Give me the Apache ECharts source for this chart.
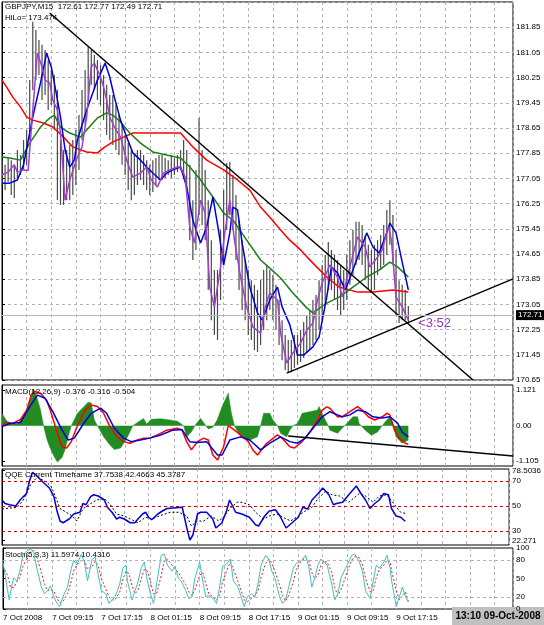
<!DOCTYPE html>
<html>
<head>
<meta charset="utf-8">
<script src="https://cdn.jsdelivr.net/npm/echarts@6/dist/echarts.min.js"></script>
<style>
  html, body { margin: 0; padding: 0; background: #fff; }
  #chart { width: 544px; height: 625px; }
</style>
</head>
<body>
<div id="chart"></div>
<script>
// x axis is the bar number (M15 bars) counted from the left edge
const dateLabels = ['7 Oct 2008', '7 Oct 09:15', '7 Oct 17:15', '8 Oct 01:15', '8 Oct 09:15',
  '8 Oct 17:15', '9 Oct 01:15', '9 Oct 09:15', '9 Oct 17:15']

// price bars, one every barStep bars
const barStep = 2
const barHigh = [177.63, 177.48, 177.70, 177.63, 177.48, 177.95, 177.79, 178.27, 178.59, 180.17,
  182.02, 181.76, 181.44, 181.29, 181.13, 180.81, 180.49, 180.33, 179.86, 178.27,
  177.95, 177.95, 178.11, 178.27, 178.59, 179.06, 179.86, 180.49, 181.22, 181.13,
  180.97, 180.81, 180.65, 180.33, 180.02, 179.70, 179.70, 179.38, 179.06, 178.75,
  178.43, 178.17, 177.95, 177.79, 177.95, 177.95, 177.79, 177.63, 177.48, 177.63,
  177.70, 177.79, 177.79, 177.70, 177.63, 177.79, 177.70, 177.79, 177.95, 178.27,
  177.95, 177.48, 176.36, 177.32, 178.97, 177.95, 177.32, 176.36, 175.09, 174.14,
  174.14, 175.41, 176.68, 177.54, 177.57, 177.16, 176.52, 175.73, 175.09, 174.46,
  174.14, 173.82, 173.67, 173.51, 173.82, 174.14, 174.30, 174.14, 173.98, 173.67,
  173.19, 172.55, 172.08, 171.92, 171.92, 172.08, 172.08, 172.24, 172.49, 172.71,
  172.87, 173.19, 173.35, 173.82, 174.30, 174.62, 175.03, 174.78, 174.62, 174.46,
  174.30, 174.14, 174.62, 175.09, 175.41, 175.67, 175.67, 175.57, 175.25, 174.94,
  174.78, 174.94, 175.09, 175.25, 175.57, 176.05, 176.36, 175.89, 174.78, 173.82,
  173.67, 173.51, 173.00]
const barLow = [176.84, 176.68, 176.94, 176.52, 176.43, 177.06, 177.16, 177.32, 177.48, 178.27,
  179.86, 180.17, 180.33, 179.54, 179.70, 179.22, 179.38, 178.59, 176.36, 176.21,
  176.21, 176.36, 176.36, 176.52, 176.84, 177.32, 178.27, 178.75, 179.54, 180.02,
  179.86, 179.54, 179.38, 178.90, 178.43, 178.27, 178.11, 177.95, 177.79, 177.48,
  177.16, 176.68, 176.36, 176.52, 176.84, 177.00, 176.84, 176.68, 176.52, 176.62,
  176.84, 177.00, 177.00, 177.06, 177.16, 177.06, 177.16, 177.25, 177.32, 177.16,
  176.68, 175.09, 174.46, 174.78, 175.89, 175.57, 175.09, 173.51, 172.55, 172.08,
  171.92, 173.19, 174.46, 175.41, 175.89, 175.41, 174.46, 173.51, 172.87, 172.55,
  172.08, 171.92, 171.60, 171.54, 171.76, 172.24, 172.55, 172.87, 172.55, 172.24,
  171.76, 171.28, 170.97, 170.90, 170.90, 171.03, 171.13, 171.22, 171.35, 171.54,
  171.60, 171.76, 171.92, 172.24, 172.55, 173.03, 173.51, 173.51, 173.19, 172.87,
  172.71, 172.87, 173.19, 173.67, 173.98, 174.30, 174.46, 174.30, 173.82, 173.51,
  173.41, 173.51, 173.98, 174.14, 174.30, 174.62, 174.94, 174.30, 172.71, 172.46,
  172.55, 172.55, 172.49]
const lastPrice = 172.71

// moving averages [bar, price]
const maRed = [[0, 180.17], [3, 179.95], [7, 179.63], [12, 179.32], [16, 179.0], [20, 178.9], [27, 178.81],
  [33, 178.68], [40, 178.36], [46, 178.05], [55, 177.89], [62, 177.86], [66, 178.02], [72, 178.21],
  [79, 178.36], [85, 178.49], [96, 178.49], [107, 178.49], [116, 178.49], [124, 178.05], [133, 177.63],
  [144, 177.32], [153, 177.0], [161, 176.68], [168, 176.14], [174, 175.82], [181, 175.41], [187, 175.09],
  [194, 174.78], [202, 174.36], [211, 173.92], [219, 173.6], [231, 173.44], [241, 173.44], [254, 173.51],
  [264, 173.44]]
const maGreen = [[0, 177.73], [5, 177.7], [12, 177.63], [18, 178.17], [25, 178.68], [31, 178.97], [34, 179.06],
  [38, 178.68], [44, 178.49], [51, 178.36], [55, 178.59], [62, 178.97], [68, 179.13], [72, 179.06],
  [77, 178.84], [83, 178.49], [90, 178.17], [98, 177.89], [107, 177.79], [116, 177.7], [122, 177.41],
  [129, 177.0], [137, 176.46], [144, 175.95], [150, 175.73], [159, 175.09], [168, 174.46], [174, 174.2],
  [181, 173.89], [189, 173.41], [198, 172.94], [202, 172.78], [211, 173.09], [219, 173.28], [228, 173.6],
  [237, 173.92], [245, 174.14], [252, 174.39], [257, 174.24], [264, 173.92]]
const maBlue = [[0, 176.9], [5, 176.9], [10, 177.0], [14, 177.48], [20, 179.0], [25, 180.08], [29, 181.03],
  [32, 180.59], [34, 180.08], [38, 179.0], [41, 177.95], [44, 177.41], [47, 177.63], [49, 178.27],
  [55, 179.22], [62, 180.17], [67, 180.71], [70, 180.27], [73, 179.63], [77, 178.9], [81, 178.36],
  [85, 177.86], [90, 177.63], [94, 177.41], [98, 177.22], [103, 177.0], [107, 177.22], [111, 177.32],
  [116, 177.41], [120, 176.78], [124, 175.73], [129, 175.0], [133, 175.51], [137, 176.46], [141, 175.3],
  [144, 174.3], [148, 175.32], [150, 176.14], [153, 176.05], [156, 175.0], [161, 173.6], [166, 172.78],
  [169, 172.55], [174, 173.19], [179, 173.6], [182, 172.97], [187, 172.4], [192, 171.44], [196, 171.44],
  [202, 171.7], [206, 172.02], [211, 173.28], [214, 174.24], [218, 174.05], [223, 173.51], [228, 174.14],
  [232, 174.68], [237, 175.32], [241, 174.87], [245, 174.68], [249, 175.19], [252, 175.63], [256, 175.32],
  [260, 174.39], [264, 173.51]]
const maPurple = [[0, 177.16], [4, 177.25], [8, 177.48], [10, 177.25], [14, 177.32], [17, 177.3], [20, 179.22],
  [23, 181.03], [26, 180.59], [28, 180.17], [31, 180.08], [33, 179.54], [36, 179.22], [38, 178.49],
  [41, 176.36], [44, 177.0], [49, 177.73], [52, 178.05], [55, 179.0], [58, 180.59], [60, 180.71],
  [64, 180.27], [66, 179.95], [68, 179.54], [70, 179.0], [73, 178.68], [77, 178.36], [81, 177.63],
  [85, 177.09], [90, 177.22], [94, 177.41], [97, 177.0], [101, 176.78], [105, 177.22], [109, 177.32],
  [114, 177.41], [116, 177.41], [119, 177.09], [122, 175.51], [125, 175.0], [129, 176.36], [132, 175.95],
  [135, 173.6], [138, 172.97], [142, 174.24], [145, 175.41], [148, 176.36], [151, 175.09], [155, 173.92],
  [159, 172.97], [163, 172.33], [168, 172.14], [171, 172.97], [174, 173.41], [179, 173.19], [181, 172.14],
  [185, 171.19], [189, 171.51], [194, 171.82], [198, 172.24], [202, 172.46], [205, 173.19], [208, 173.73],
  [213, 174.3], [218, 173.92], [221, 173.28], [226, 174.24], [231, 175.19], [236, 174.87], [239, 174.24],
  [244, 174.55], [247, 174.78], [251, 175.51], [253, 175.09], [256, 173.28], [260, 172.97], [264, 172.55]]
const trendDown = [[31, 182.30], [306, 170.65]]
const trendUp = [[185, 170.87], [332, 173.86]]

// MACD pane
const macdTicks = [1.121, 0, -1.105]
const macdHist = [[0, 0.39], [3, 0.15], [6, 0.08], [10, 0.05], [14, 0.3], [17, 0.6], [19, 0.9], [20, 1.15],
  [22, 1.0], [25, 0.5], [27, 0], [29, -0.4], [31, -0.67], [34, -0.98], [36, -1.14], [39, -1.0], [41, -0.75],
  [43, -0.35], [45, 0], [49, 0.39], [53, 0.59], [56, 0.74], [58, 0.71], [60, 0.18], [62, 0], [66, -0.35],
  [70, -0.6], [73, -0.75], [77, -0.7], [81, -0.4], [85, 0], [88, 0.1], [92, 0.23], [94, 0.05], [97, 0.2],
  [103, 0.22], [109, 0.18], [114, 0.14], [118, 0], [120, -0.35], [123, -0.2], [126, 0.05], [129, 0.23],
  [131, 0.1], [134, -0.1], [137, -0.05], [140, 0.2], [143, 0.6], [147, 1.02], [149, 0.4], [151, 0],
  [155, -0.35], [158, -0.4], [161, -0.45], [166, -0.35], [168, 0], [170, 0.39], [174, 0.39], [176, 0.18],
  [179, 0], [181, -0.24], [185, -0.35], [187, -0.14], [189, 0], [192, 0.07], [195, 0.39], [200, 0.44],
  [205, 0.49], [206, 0.6], [210, 0.18], [212, 0], [213, -0.14], [218, -0.24], [221, -0.08], [224, 0.07],
  [228, 0.28], [231, 0.28], [232, 0.07], [236, -0.14], [240, -0.3], [244, -0.2], [247, 0], [250, 0.18],
  [252, 0.28], [254, 0.07], [256, -0.35], [260, -0.55], [264, -0.45]]
const macdRed = [[0, 0], [3, 0.1], [7, 0.07], [12, 0.2], [16, 0.49], [19, 0.96], [21, 1.08], [25, 1.02],
  [29, 0.8], [32, 0.39], [36, -0.24], [39, -0.66], [42, -0.7], [45, -0.5], [49, 0], [54, 0.49], [58, 0.65],
  [62, 0.6], [66, 0.39], [70, -0.02], [75, -0.35], [79, -0.5], [83, -0.55], [88, -0.45], [92, -0.39],
  [96, -0.39], [101, -0.29], [107, -0.14], [114, -0.08], [117, -0.14], [120, -0.5], [123, -0.76],
  [127, -0.5], [131, -0.39], [134, -0.45], [137, -0.92], [140, -1.08], [144, -0.66], [147, 0], [150, -0.1],
  [155, -0.29], [160, -0.5], [163, -0.76], [166, -0.92], [172, -0.55], [179, -0.29], [182, -0.39],
  [187, -0.66], [190, -0.7], [195, -0.5], [200, -0.2], [205, 0.18], [208, 0.49], [211, 0.59], [213, 0.55],
  [218, 0.28], [221, 0.28], [226, 0.44], [231, 0.6], [234, 0.49], [238, 0.28], [242, 0.18], [247, 0.28],
  [250, 0.39], [252, 0.34], [255, -0.14], [258, -0.39], [262, -0.55], [264, -0.58]]
const macdBlue = [[0, -0.03], [5, 0.07], [12, 0.1], [18, 0.6], [23, 0.96], [28, 0.86], [33, 0.44], [39, -0.14],
  [43, -0.45], [47, -0.39], [53, 0.07], [58, 0.39], [64, 0.55], [68, 0.39], [73, -0.08], [79, -0.39],
  [84, -0.5], [90, -0.45], [96, -0.39], [103, -0.29], [111, -0.14], [117, -0.12], [122, -0.5], [127, -0.53],
  [133, -0.5], [140, -0.92], [143, -0.92], [148, -0.45], [155, -0.35], [161, -0.45], [168, -0.76],
  [174, -0.55], [181, -0.35], [187, -0.5], [192, -0.55], [197, -0.39], [202, -0.08], [208, 0.28],
  [213, 0.44], [218, 0.34], [221, 0.28], [226, 0.34], [231, 0.49], [236, 0.44], [241, 0.28], [247, 0.24],
  [252, 0.28], [257, 0.08], [260, -0.2], [264, -0.35]]
const macdTrend = [[186, -0.32], [332, -0.95]]

// QQE pane
const qqeTicks = [22.271, 30, 50, 70, 78.5036]
const qqeLevels = [70, 50, 30]
const qqeFast = [[0, 54.8], [2, 52], [5, 51], [6, 52], [9, 50], [12, 55], [16, 60], [18, 70], [20, 77], [23, 74],
  [26, 70], [31, 64.4], [34, 57.5], [36, 46], [38, 38], [40, 36.6], [44, 39.6], [47, 43.6], [51, 45], [53, 52],
  [55, 51], [58, 57.5], [60, 59], [63, 58], [67, 54.8], [69, 49], [72, 45], [75, 39.6], [77, 41], [80, 39.6],
  [84, 36.6], [87, 36.6], [89, 39.6], [92, 43.6], [94, 45], [96, 41], [98, 39], [102, 43.6], [105, 46],
  [108, 48], [112, 48.4], [118, 49], [119, 47.6], [121, 32.4], [123, 22.8], [125, 26.8], [128, 43.6],
  [130, 45], [134, 45], [138, 39.6], [140, 32.4], [144, 36.6], [147, 46], [149, 54.8], [153, 45],
  [157, 43.6], [162, 41], [166, 35], [168, 34], [172, 42], [175, 46], [179, 47], [182, 42], [186, 32.4],
  [190, 36.6], [194, 41], [197, 49], [200, 47.6], [203, 54.8], [207, 60], [210, 64.4], [214, 59], [217, 51],
  [219, 52], [223, 53], [227, 59], [232, 66], [235, 60], [238, 54.8], [241, 48], [244, 52], [247, 54.8],
  [250, 60], [253, 59], [255, 48], [258, 42], [261, 41], [264, 37.75]]
const qqeSlow = [[0, 47.6], [10, 49], [14, 54.8], [19, 67.6], [23, 73], [28, 70], [32, 66], [35, 57.5], [38, 48],
  [42, 45], [46, 42], [49, 38], [53, 47.6], [58, 52], [62, 54.8], [67, 56], [71, 51], [75, 43.6], [80, 42],
  [84, 39.6], [89, 36.6], [94, 41], [98, 39.6], [103, 42], [110, 45], [116, 45], [121, 42], [124, 34],
  [128, 38], [132, 38], [137, 42], [142, 38], [145, 41], [150, 49], [154, 53], [157, 53], [162, 51],
  [166, 45], [171, 39.6], [175, 42], [180, 43.6], [184, 41], [189, 38], [194, 42], [198, 45.6], [203, 49],
  [207, 56], [212, 62], [216, 59], [221, 58], [227, 53], [234, 60], [238, 58], [243, 53], [247, 58],
  [252, 59], [257, 51], [261, 45], [264, 44]]

// Stochastic pane
const stochTicks = [0, 20, 50, 80, 100]
const stochLevels = [20, 80]
const stochMain = [[0, 77], [2, 46], [4, 15], [6, 41], [7, 51], [9, 46], [11, 62], [13, 88], [16, 96], [18, 98],
  [20, 93], [22, 67], [25, 36], [27, 25], [29, 30], [31, 38], [33, 20], [35, 10], [37, 4], [39, 20], [42, 36],
  [44, 62], [46, 80], [48, 72], [51, 90], [53, 77], [55, 46], [58, 82], [60, 85], [62, 56], [64, 30], [67, 25],
  [69, 9], [71, 15], [73, 20], [76, 41], [78, 67], [80, 72], [81, 46], [84, 15], [86, 30], [88, 46], [90, 67],
  [92, 77], [94, 46], [96, 25], [98, 9], [100, 41], [103, 88], [105, 90], [107, 72], [110, 62], [112, 70],
  [114, 51], [116, 46], [119, 30], [121, 17], [123, 20], [125, 51], [128, 77], [130, 46], [132, 20], [134, 22],
  [137, 17], [139, 9], [141, 36], [143, 70], [146, 75], [148, 82], [150, 46], [153, 36], [155, 20], [157, 4],
  [159, 20], [162, 25], [164, 20], [166, 41], [168, 72], [171, 88], [173, 82], [175, 62], [177, 51], [180, 20],
  [182, 9], [184, 15], [186, 36], [189, 67], [191, 75], [193, 77], [195, 82], [197, 88], [199, 70], [201, 36],
  [203, 51], [205, 72], [207, 82], [209, 77], [211, 72], [214, 41], [216, 15], [218, 25], [220, 51], [223, 67],
  [225, 77], [227, 88], [229, 90], [232, 77], [234, 62], [236, 30], [239, 17], [241, 46], [243, 72], [245, 67],
  [248, 77], [250, 88], [252, 67], [253, 46], [256, 4], [258, 20], [260, 36], [262, 20], [264, 11.6]]
const stochSignal = [[0, 70], [3, 55], [5, 35], [7, 35], [9, 45], [11, 52], [13, 70], [16, 85], [18, 94],
  [20, 96], [22, 85], [25, 60], [27, 40], [29, 30], [31, 32], [33, 30], [35, 18], [37, 10], [39, 12], [42, 25],
  [44, 42], [46, 62], [48, 72], [51, 80], [53, 80], [55, 65], [58, 70], [60, 78], [62, 72], [64, 50], [67, 32],
  [69, 20], [71, 15], [73, 15], [76, 28], [78, 48], [80, 62], [82, 58], [84, 38], [86, 25], [88, 32], [90, 50],
  [92, 65], [94, 62], [96, 45], [98, 25], [100, 25], [103, 55], [105, 80], [107, 82], [110, 72], [112, 66],
  [114, 60], [116, 52], [119, 40], [121, 28], [123, 22], [125, 32], [128, 55], [130, 60], [132, 42], [134, 25],
  [137, 19], [139, 15], [141, 22], [143, 45], [146, 65], [148, 77], [150, 65], [153, 45], [155, 30], [157, 15],
  [159, 12], [162, 18], [164, 22], [166, 30], [168, 52], [171, 75], [173, 82], [175, 75], [177, 62], [180, 40],
  [182, 22], [184, 13], [186, 22], [189, 45], [191, 65], [193, 75], [195, 80], [197, 84], [199, 80], [201, 60],
  [203, 50], [205, 55], [207, 72], [209, 78], [211, 77], [214, 60], [216, 35], [218, 22], [220, 32], [223, 52],
  [225, 68], [227, 80], [229, 86], [232, 84], [234, 72], [236, 50], [239, 28], [241, 30], [243, 52], [245, 65],
  [248, 72], [250, 80], [252, 78], [253, 62], [256, 30], [258, 15], [260, 22], [262, 28], [264, 10.4]]

const font = '"Liberation Sans", Arial, sans-serif'
const gridLine = { color: '#b4b4b4', type: [3, 3], width: 1 }

function xAxisFor(i, labels) {
  return {
    type: 'value', gridIndex: i, min: 0, max: 332, interval: 16,
    axisLine: { show: false },
    axisTick: { show: false },
    axisLabel: {
      show: labels, align: 'left', fontSize: 8, color: '#000', fontFamily: font, margin: 5,
      showMaxLabel: false,
      formatter: (v) => (v % 32 === 0 && dateLabels[v / 32]) ? dateLabels[v / 32] : ''
    },
    splitLine: { show: true, lineStyle: gridLine }
  }
}

function yAxisFor(i, extra) {
  return Object.assign({
    type: 'value', gridIndex: i, position: 'right',
    axisLine: { show: true, lineStyle: { color: '#000' } },
    axisTick: { show: true, length: 3, lineStyle: { color: '#000' } },
    splitLine: { show: false }
  }, extra)
}

function line(name, data, xi, color, width, type) {
  return {
    name, type: 'line', data, xAxisIndex: xi, yAxisIndex: xi,
    symbol: 'none', silent: true, z: 3,
    lineStyle: { color, width, type: type || 'solid' }
  }
}

const chart = echarts.init(document.getElementById('chart'))

const labelStyle = { fontSize: 8, color: '#000', fontFamily: font, margin: 3 }

chart.setOption({
  animation: false,
  backgroundColor: '#fff',
  title: [
    { text: 'GBPJPY,M15  172.61 172.77 172.49 172.71', left: 5, top: 3 },
    { text: 'HiLo= 173.474', left: 5, top: 14 },
    { text: 'MACD(12,26,9) -0.376 -0.316 -0.504', left: 5, top: 388 },
    { text: 'QQE Current Timeframe 37.7538 42.4663 45.3787', left: 5, top: 471 },
    { text: 'Stoch(5,3,3) 11.5974 10.4316', left: 5, top: 551 }
  ].map(t => Object.assign({ padding: 0, textStyle: { fontSize: 8, fontWeight: 'normal', color: '#000', fontFamily: font } }, t)),
  grid: [
    { left: 2, right: 31, top: 2, height: 378 },
    { left: 2, right: 31, top: 385, height: 81 },
    { left: 2, right: 31, top: 469, height: 76 },
    { left: 2, right: 31, top: 548, height: 61 }
  ].map(g => Object.assign({ show: true, borderColor: '#000', borderWidth: 1 }, g)),
  xAxis: [xAxisFor(0, false), xAxisFor(1, false), xAxisFor(2, false), xAxisFor(3, true)],
  yAxis: [
    yAxisFor(0, {
      min: 170.65, max: 182.65, interval: 0.8,
      axisLabel: Object.assign({ showMaxLabel: false, formatter: (v) => v.toFixed(2) }, labelStyle),
      splitLine: { show: true, lineStyle: gridLine }
    }),
    yAxisFor(1, {
      min: -1.265, max: 1.278,
      axisTick: { show: true, length: 3, customValues: macdTicks, lineStyle: { color: '#000' } },
      axisLabel: Object.assign({ customValues: macdTicks, formatter: (v) => v === 0 ? '0.00' : String(v) }, labelStyle)
    }),
    yAxisFor(2, {
      min: 18.8, max: 79.6,
      axisTick: { show: true, length: 3, customValues: qqeTicks, lineStyle: { color: '#000' } },
      axisLabel: Object.assign({ customValues: qqeTicks, formatter: (v) => String(v) }, labelStyle)
    }),
    yAxisFor(3, {
      min: 0, max: 100,
      axisTick: { show: true, length: 3, customValues: stochTicks, lineStyle: { color: '#000' } },
      axisLabel: Object.assign({ customValues: stochTicks, formatter: (v) => String(v) }, labelStyle)
    })
  ],
  graphic: [
    { type: 'rect', left: 452, top: 607, shape: { width: 92, height: 18 }, style: { fill: '#c0c0c0' }, silent: true },
    {
      type: 'text', x: 498, y: 616, silent: true,
      style: { text: '13:10 09-Oct-2008', font: 'bold 10px ' + font, fill: '#000', align: 'center', verticalAlign: 'middle' }
    }
  ],
  series: [
    {
      name: 'bars', type: 'custom', xAxisIndex: 0, yAxisIndex: 0, silent: true, z: 1, clip: true,
      data: barHigh.map((h, i) => [i * barStep, barLow[i], h]),
      encode: { x: 0, y: [1, 2] },
      renderItem: (params, api) => {
        const lo = api.coord([api.value(0), api.value(1)])
        const hi = api.coord([api.value(0), api.value(2)])
        return {
          type: 'line',
          shape: { x1: lo[0], y1: lo[1], x2: hi[0], y2: hi[1] },
          style: { stroke: '#4a4a4a', lineWidth: 1.2 }
        }
      }
    },
    Object.assign(line('ma red', maRed, 0, '#ff0000', 1.5), {
      markLine: {
        symbol: 'none', silent: true,
        data: [{ yAxis: lastPrice }],
        lineStyle: { color: '#b8b8b8', type: 'solid', width: 1 },
        label: {
          show: true, position: 'end', distance: 3, formatter: lastPrice.toFixed(2),
          color: '#fff', backgroundColor: '#000', padding: [1, 2, 1, 2], fontSize: 8, fontFamily: font
        }
      }
    }),
    line('ma green', maGreen, 0, '#1a7f1a', 1.5),
    line('ma blue', maBlue, 0, '#0000d8', 1.5),
    Object.assign(line('ma purple', maPurple, 0, '#a040c8', 1.5), {
      markPoint: {
        silent: true, symbol: 'circle', symbolSize: 1, itemStyle: { color: 'rgba(0,0,0,0)' },
        data: [{ coord: [270, 172.45] }],
        label: { show: true, position: 'right', distance: 0, formatter: '<3:52', color: '#9932cc', fontSize: 13, fontFamily: font }
      }
    }),
    line('trend down', trendDown, 0, '#000', 1.5),
    line('trend up', trendUp, 0, '#000', 1.5),

    Object.assign(line('macd hist', macdHist, 1, '#228b22', 0.5), {
      z: 2, areaStyle: { color: '#228b22', opacity: 1, origin: 0 }
    }),
    line('macd red', macdRed, 1, '#ff0000', 1.5),
    line('macd blue', macdBlue, 1, '#0000d8', 1.5),
    line('macd trend', macdTrend, 1, '#000', 1.5),

    Object.assign(line('qqe slow', qqeSlow, 2, '#000', 1, [2, 2]), {
      markLine: {
        symbol: 'none', silent: true, label: { show: false },
        data: qqeLevels.map(v => ({ yAxis: v })),
        lineStyle: { color: '#cc0000', type: [3, 3], width: 1 }
      }
    }),
    line('qqe fast', qqeFast, 2, '#0000d8', 1.5),

    Object.assign(line('stoch signal', stochSignal, 3, '#e02020', 1, [2, 2]), {
      markLine: {
        symbol: 'none', silent: true, label: { show: false },
        data: stochLevels.map(v => ({ yAxis: v })),
        lineStyle: { color: '#b4b4b4', type: [3, 3], width: 1 }
      }
    }),
    line('stoch main', stochMain, 3, '#40c0c0', 1)
  ]
})
</script>
</body>
</html>
